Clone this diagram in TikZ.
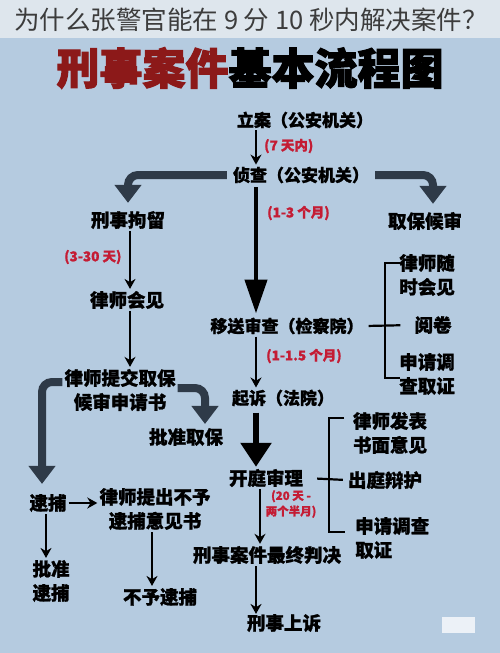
\documentclass[tikz,border=0pt]{standalone}
\usepackage{fontspec}
\setmainfont{Noto Sans CJK SC}[BoldFeatures={FakeBold=1.2}]
\newfontfamily\heavy{Noto Sans CJK SC}[BoldFeatures={FakeBold=2.5}]
\newfontfamily\light{Noto Sans CJK SC}
\usetikzlibrary{arrows.meta,calc}
\definecolor{bg}{RGB}{181,203,224}
\definecolor{band}{RGB}{222,230,237}
\definecolor{slate}{RGB}{46,58,72}
\definecolor{lab}{RGB}{196,28,52}
\definecolor{tred}{RGB}{140,25,25}
\definecolor{hdr}{RGB}{60,60,60}
\begin{document}
\begin{tikzpicture}[x=1pt,y=-1pt,
  box/.style={font=\bfseries\fontsize{18.5}{24}\selectfont, inner sep=2pt, align=center, text=black},
  pbox/.style={box, font=\bfseries\fontsize{17}{24}\selectfont},
  lbl/.style={font=\bfseries\fontsize{13.5}{15}\selectfont, text=lab, inner sep=0pt, align=left, anchor=west},
  thinarr/.style={line width=2pt, -{Stealth[length=10pt,width=11pt]}},
  midarr/.style={line width=4.5pt, -{Triangle[length=34pt,width=22pt]}},
  fatarr/.style={line width=8pt, slate, rounded corners=10pt, -{Triangle[length=18pt,width=26pt]}},
  brk/.style={line width=2.2pt}
]
\fill[bg] (0,0) rectangle (500,653);
\fill[band] (0,0) rectangle (500,38);
\useasboundingbox (0,0) rectangle (500,653);

% header and title
\node[font=\light\fontsize{25.5}{28}\selectfont, text=hdr, inner sep=0pt] (hd) at (251,20) {为什么张警官能在 9 分 10 秒内解决案件？};
\node[font=\heavy\bfseries\fontsize{43}{48}\selectfont, inner sep=0pt] (tt) at (250,68) {\textcolor{tred}{刑事案件}基本流程图};

% main column
\coordinate (mx) at (256,0);
\node[pbox] (la) at (305,120) {立案（公安机关）};
\node[pbox] (zc) at (301,175) {侦查（公安机关）};
\node[pbox] (ys) at (287,326) {移送审查（检察院）};
\node[pbox] (qs) at (283,398) {起诉（法院）};
\node[box] (kt) at (266,478) {开庭审理};
\node[box] (zj) at (267,555) {刑事案件最终判决};
\node[box] (ss) at (284,623) {刑事上诉};

% left column
\node[box] (jl) at (128,220) {刑事拘留};
\node[box] (qb) at (425,221) {取保候审};
\node[box] (ls) at (127,300) {律师会见};
\node[box] (tj) at (120,390) {律师提交取保\\候审申请书};
\node[box] (pz) at (186,437) {批准取保};
\node[box] (db) at (48,503) {逮捕};
\node[box] (bd) at (155,509) {律师提出不予\\逮捕意见书};
\node[box] (pd) at (51,581) {批准\\逮捕};
\node[box] (by) at (160,597) {不予逮捕};

% right texts
\node[box] (r1) at (427,275) {律师随\\时会见};
\node[box] (r2) at (433,325) {阅卷};
\node[box] (r3) at (427,374) {申请调\\查取证};
\node[box] (k1) at (390,433) {律师发表\\书面意见};
\node[box] (k2) at (385,480) {出庭辩护};
\node[box, align=left, anchor=west] (k3) at (353,538) {申请调查\\取证};

% labels
\node[lbl] (l1) at (264,146) {(7 天内)};
\node[lbl] (l2) at (267,213) {(1-3 个月)};
\node[lbl] (l3) at (64,257) {(3-30 天)};
\node[lbl] (l4) at (266,356) {(1-1.5 个月)};
\node[lbl, align=center, anchor=center, font=\bfseries\fontsize{11.5}{15.5}\selectfont] (l5) at (291,504) {(20 天 -\\两个半月)};

% main arrows
\draw[thinarr] (la.south -| mx) -- (zc.north -| mx);
\draw[midarr] ([yshift=-2pt]zc.south -| mx) -- ([yshift=2pt]ys.north -| mx);
\draw[thinarr] (ys.south -| mx) -- (qs.north -| mx);
\draw[midarr, line width=5.5pt, -{Triangle[length=24pt,width=30pt]}] ([yshift=-4pt]qs.south -| mx) -- (kt.north -| mx);
\draw[thinarr] (kt.south -| 260,0) -- (zj.north -| 260,0);
\draw[thinarr] (zj.south -| mx) -- ([yshift=-2pt]ss.north -| mx);

% left arrows
\draw[thinarr] (jl.south -| 130,0) -- (ls.north -| 130,0);
\draw[thinarr] (ls.south -| 130,0) -- (tj.north -| 130,0);
\draw[thinarr] (db.east) -- (bd.west |- db.east);
\draw[thinarr] (db.south -| 46,0) -- (pd.north -| 46,0);
\draw[thinarr] (bd.south -| 152,0) -- (by.north -| 152,0);

% fat arrows
\draw[fatarr] ([xshift=-4pt]zc.west) -| ([yshift=6pt]jl.north);
\draw[fatarr] ([xshift=4pt]zc.east) -| ([yshift=6pt]qb.north -| 433,0);
\draw[fatarr] ([yshift=8pt]tj.west) -| ([yshift=8pt]db.north -| 42,0);
\draw[fatarr] ([yshift=2pt]tj.east) -| ([yshift=2pt]pz.north -| 205,0);

% brackets
\draw[brk, shorten <=3pt, shorten >=12pt] (ys.east) -- (r2.west);
\draw[brk] (400,263) -- (385,263) -- (385,378) -- (400,378);
\draw[brk, shorten <=12pt, shorten >=3pt] (kt.east) -- (k2.west);
\draw[brk] (344,418) -- (329,418) -- (329,532) -- (345,532);

% watermark patch
\fill[white, opacity=0.75] (442,617) rectangle (475,633);
\end{tikzpicture}
\end{document}
